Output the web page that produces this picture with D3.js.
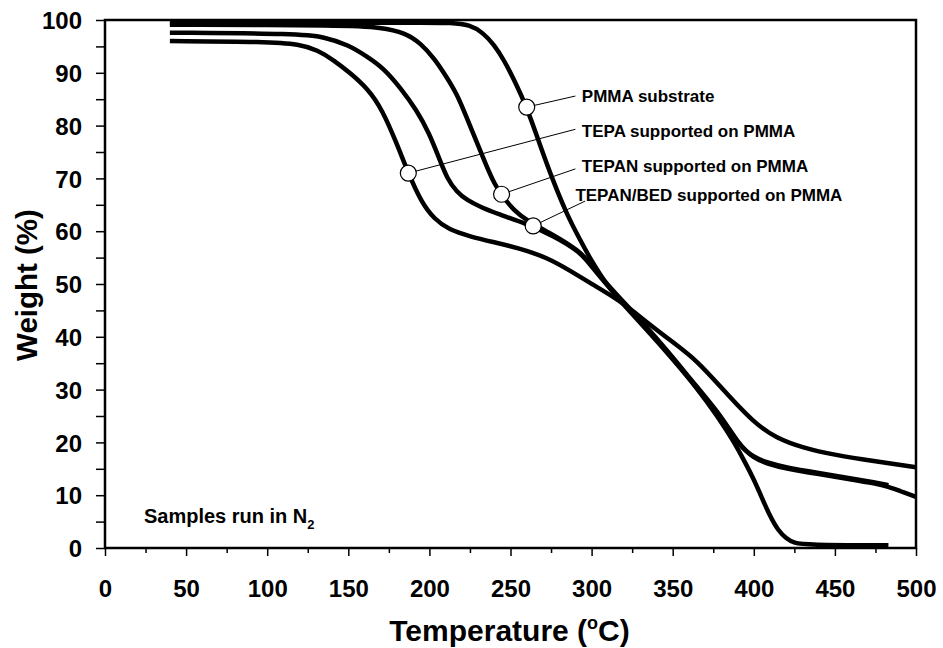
<!DOCTYPE html>
<html>
<head>
<meta charset="utf-8">
<style>
  body { margin: 0; background: #fff; }
  svg { display: block; font-family: "Liberation Sans", Arial, sans-serif; font-weight: bold; }
</style>
</head>
<body>
<svg></svg>
<script src="https://d3js.org/d3.v7.min.js"></script>
<script>

// TGA curves: [temperature (C), weight (%)]
var pmma = [[40,99.5],[150,99.5],[200,99.5],[213,99.5],[225,99.1],[233,97.6],[240,95.3],[246,92.4],[253,88.2],[260,83.5],[268,76.5],[276,69.7],[285,63],[293,58.3],[300,54.3],[310,49.5],[320,46],[335,41],[350,35.8],[365,30.3],[378,24.8],[388,20],[395,16],[400,13],[405,9.5],[410,6],[415,3.3],[420,1.8],[425,0.9],[432,0.6],[483,0.5]];
var tepa = [[40,96.0],[100,95.9],[120,95.4],[131,94.3],[141,92.4],[151,90],[162,87],[171,83],[180,76.5],[187,71],[195,65.5],[203,62.3],[212,60.3],[225,59],[240,57.9],[255,56.8],[272,55.1],[288,52.3],[300,50],[317,47],[335,42.5],[350,39],[365,35.5],[381,30],[400,23.7],[414,20.8],[430,19],[450,17.6],[475,16.4],[500,15.3]];
var tepan = [[40,99.1],[150,99.0],[170,98.6],[185,97.6],[195,95.5],[203,92.7],[210,89.5],[217,86],[223,81.5],[229,77],[235,72.5],[240,69],[245,66.6],[252,64],[260,62],[276,59.4],[293,56.2],[300,53.5],[310,49.8],[320,46.5],[332,42.5],[345,38],[365,30.5],[380,25],[391,19.5],[400,17],[408,16],[420,15],[440,14],[460,13],[475,12.2],[483,11.6],[490,10.8],[500,9.7]];
var tepanBed = [[40,97.6],[120,97.4],[135,96.8],[150,95.3],[162,93],[172,90.8],[182,87.2],[192,83],[200,78.5],[206,73.8],[211,69.9],[217,67.4],[223,65.9],[232,64.5],[242,63.3],[260,61.4],[276,59.2],[293,56.1],[300,53.3],[310,49.6],[320,46.3],[332,42.3],[345,37.8],[365,30.3],[380,24.8],[391,19.3],[400,17.2],[408,16.2],[420,15.2],[440,14.2],[460,13.2],[475,12.4],[483,11.9]];

var seriesNames = ["PMMA substrate", "TEPA supported on PMMA", "TEPAN supported on PMMA", "TEPAN/BED supported on PMMA"];
var seriesData = [pmma, tepa, tepan, tepanBed];

// callout circles on each curve and where their leader lines end
var markerPoints = [[260,83.5],[187,71],[244.5,67],[264,61]];
var leaderEnds = [[290,85.6],[290,79.3],[290,71.8],[296,65.7]];
var labelPoints = [[294,84.5],[294,77.8],[294,71.3],[290,65.8]];

var xTicks = [0,50,100,150,200,250,300,350,400,450,500];
var yTicks = [0,10,20,30,40,50,60,70,80,90,100];

var width = 943, height = 648;
var margin = {top: 20, right: 27, bottom: 100, left: 105};
var w = width - margin.left - margin.right;
var h = height - margin.top - margin.bottom;

var svg = d3.select("svg").attr("width", width).attr("height", height);
var g = svg.append("g").attr("transform", "translate(" + margin.left + "," + margin.top + ")");

var x = d3.scaleLinear().domain([0, 500]).range([0, w]);
var y = d3.scaleLinear().domain([0, 100]).range([h, 0]);

// minor ticks
g.append("g")
    .attr("transform", "translate(0," + h + ")")
    .call(d3.axisBottom(x).tickValues(d3.range(25, 500, 50)).tickSize(5).tickFormat(""))
    .call(a => a.select(".domain").remove())
    .selectAll("line").attr("stroke-width", 1.5);
g.append("g")
    .call(d3.axisLeft(y).tickValues(d3.range(5, 100, 10)).tickSize(9).tickFormat(""))
    .call(a => a.select(".domain").remove())
    .selectAll("line").attr("stroke-width", 1.5);

var xAxis = g.append("g")
    .attr("transform", "translate(0," + h + ")")
    .call(d3.axisBottom(x).tickValues(xTicks).tickSize(8).tickPadding(24));
var yAxis = g.append("g")
    .call(d3.axisLeft(y).tickValues(yTicks).tickSize(9).tickPadding(14));

[xAxis, yAxis].forEach(function(a) {
  a.select(".domain").remove();
  a.selectAll("line").attr("stroke-width", 1.5);
  a.selectAll("text").attr("font-size", 24).attr("font-weight", "bold")
    .attr("font-family", "'Liberation Sans', Arial, sans-serif").attr("fill", "#000");
});
yAxis.selectAll("text").attr("dy", "0.36em");

// frame
g.append("rect").attr("width", w).attr("height", h)
    .attr("fill", "none").attr("stroke", "#000").attr("stroke-width", 2.5);

var line = d3.line()
    .x(d => x(d[0])).y(d => y(d[1]))
    .curve(d3.curveBasis);

g.selectAll("path.curve")
    .data(seriesData)
    .join("path")
    .attr("class", "curve")
    .attr("d", line)
    .attr("fill", "none")
    .attr("stroke", "#000")
    .attr("stroke-width", 4.5)
    .attr("stroke-linejoin", "round");

// callouts
g.selectAll("line.leader")
    .data(markerPoints)
    .join("line")
    .attr("class", "leader")
    .attr("x1", d => x(d[0])).attr("y1", d => y(d[1]))
    .attr("x2", (d, i) => x(leaderEnds[i][0])).attr("y2", (d, i) => y(leaderEnds[i][1]))
    .attr("stroke", "#000").attr("stroke-width", 1);

g.selectAll("circle.marker")
    .data(markerPoints)
    .join("circle")
    .attr("class", "marker")
    .attr("cx", d => x(d[0])).attr("cy", d => y(d[1]))
    .attr("r", 8)
    .attr("fill", "#fff").attr("stroke", "#000").attr("stroke-width", 1.2);

g.selectAll("text.label")
    .data(seriesNames)
    .join("text")
    .attr("class", "label")
    .attr("x", (d, i) => x(labelPoints[i][0]))
    .attr("y", (d, i) => y(labelPoints[i][1]))
    .attr("font-size", 17)
    .text(d => d);

// note
var note = g.append("text").attr("x", x(24)).attr("y", y(4.8)).attr("font-size", 20);
note.append("tspan").text("Samples run in N");
note.append("tspan").attr("font-size", 13).attr("dy", 6).text("2");

// axis titles
var xt = svg.append("text")
    .attr("x", margin.left + w / 2 - 1).attr("y", 641)
    .attr("text-anchor", "middle").attr("font-size", 30);
xt.append("tspan").text("Temperature (");
xt.append("tspan").attr("font-size", 18).attr("dy", -12).text("o");
xt.append("tspan").attr("dy", 12).text("C)");

svg.append("text")
    .attr("transform", "translate(37," + (margin.top + h / 2 + 1) + ") rotate(-90)")
    .attr("text-anchor", "middle").attr("font-size", 29.5)
    .text("Weight (%)");

</script>
</body>
</html>
